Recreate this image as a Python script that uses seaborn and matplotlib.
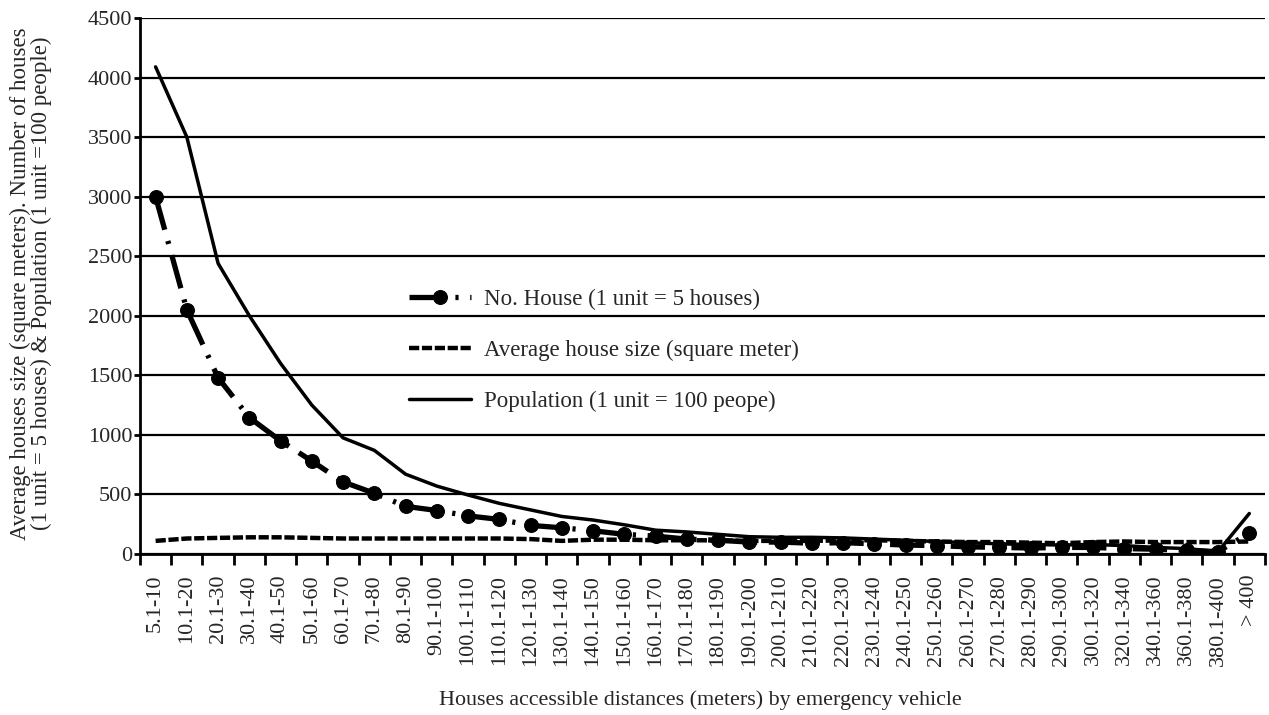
import numpy as np
import pandas as pd
import seaborn as sns
from matplotlib import pyplot as plt

DISTANCES = [
    "5.1-10", "10.1-20", "20.1-30", "30.1-40", "40.1-50", "50.1-60",
    "60.1-70", "70.1-80", "80.1-90", "90.1-100", "100.1-110", "110.1-120",
    "120.1-130", "130.1-140", "140.1-150", "150.1-160", "160.1-170", "170.1-180",
    "180.1-190", "190.1-200", "200.1-210", "210.1-220", "220.1-230", "230.1-240",
    "240.1-250", "250.1-260", "260.1-270", "270.1-280", "280.1-290", "290.1-300",
    "300.1-320", "320.1-340", "340.1-360", "360.1-380", "380.1-400", "> 400",
]

# no. of houses (1 unit = 5 houses)
NO_HOUSE = [
    3000, 2050, 1480, 1145, 950, 780, 605, 510, 400, 365, 320, 290,
    240, 220, 195, 165, 150, 125, 115, 100, 100, 90, 95, 85,
    75, 70, 60, 55, 50, 55, 55, 45, 40, 30, 20, 175,
]

# average house size (square meter)
AVG_SIZE = [
    110, 130, 135, 140, 140, 135, 130, 130, 130, 130, 130, 130,
    125, 110, 120, 120, 115, 115, 115, 110, 110, 110, 115, 115,
    110, 105, 100, 100, 95, 90, 100, 105, 100, 100, 100, 105,
]

# population (1 unit = 100 people)
POPULATION = [
    4090, 3500, 2440, 2000, 1600, 1250, 975, 870, 670, 570, 495, 425,
    370, 315, 285, 245, 200, 185, 165, 145, 140, 140, 135, 125,
    115, 105, 95, 85, 80, 75, 80, 70, 55, 45, 20, 340,
]

LABELS = [
    "No. House (1 unit = 5 houses)",
    "Average house size (square meter)",
    "Population (1 unit = 100 peope)",
]

sns.set_theme(style="white")
plt.rcParams["font.family"] = ["Liberation Serif", "DejaVu Serif"]

df = pd.DataFrame(
    {
        "pos": np.arange(len(DISTANCES)),
        "distance": DISTANCES,
        "house": NO_HOUSE,
        "size": AVG_SIZE,
        "population": POPULATION,
    }
)

fig = plt.figure(figsize=(12.69, 7.15), dpi=100)
ax = fig.add_axes([0.1103, 0.2252, 0.8865, 0.7496])

sns.lineplot(
    data=df, x="pos", y="house", ax=ax, color="black", lw=3.8,
    linestyle=(0, (6.5, 2.2, 0.6, 2.2)), marker="o", markersize=10,
    markeredgecolor="black", label=LABELS[0], zorder=4,
)
sns.lineplot(
    data=df, x="pos", y="size", ax=ax, color="black", lw=3.2,
    linestyle=(0, (2.3, 0.6)), label=LABELS[1], zorder=3,
)
sns.lineplot(
    data=df, x="pos", y="population", ax=ax, color="black", lw=2.5,
    linestyle="-", label=LABELS[2], zorder=3,
)

ax.set_ylim(0, 4500)
ax.set_xlim(-0.5, len(DISTANCES) - 0.5)
ax.set_yticks(np.arange(0, 4501, 500))
ax.yaxis.grid(True, color="black", lw=1.6)
ax.xaxis.grid(False)
ax.set_axisbelow(True)

ax.set_xticks(np.arange(-0.5, len(DISTANCES), 1))
ax.set_xticklabels([])
ax.set_xticks(np.arange(len(DISTANCES)), minor=True)
ax.set_xticklabels(DISTANCES, minor=True, rotation=90, fontsize=16)
ax.tick_params(axis="x", which="major", length=8, width=2, direction="out",
               bottom=True, color="black")
ax.tick_params(axis="x", which="minor", length=0, pad=15, bottom=True)
ax.tick_params(axis="y", length=4, width=2, direction="out", left=True,
               pad=1.5, labelsize=16, color="black")

for side in ("top", "right"):
    ax.spines[side].set_visible(False)
for side in ("left", "bottom"):
    ax.spines[side].set_color("black")
    ax.spines[side].set_linewidth(2)

ax.set_xlabel("Houses accessible distances (meters) by emergency vehicle", fontsize=15.8)
ax.xaxis.set_label_coords(0.498, -0.255)
ax.set_ylabel(
    "Average houses size (square meters). Number of houses\n"
    "(1 unit = 5 houses) & Population (1 unit =100 people)",
    fontsize=16.5, linespacing=1.0,
)
ax.yaxis.set_label_coords(-0.078, 0.505)

ax.legend(
    loc="upper left", bbox_to_anchor=(0.221, 0.534), frameon=False,
    fontsize=16.5, handlelength=2.7, labelspacing=1.32, handletextpad=0.55,
)

fig.savefig("out.png", dpi=100)
plt.close(fig)
